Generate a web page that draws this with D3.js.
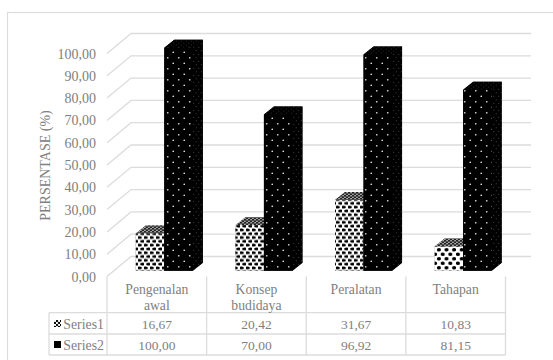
<!DOCTYPE html>
<html>
<head>
<meta charset="utf-8">
<script src="https://cdn.jsdelivr.net/npm/d3@7/dist/d3.min.js"></script>
<style>
html,body{margin:0;padding:0;background:#fff;overflow:hidden}
text{font-family:"Liberation Serif",serif;fill:#808080}
</style>
</head>
<body>
<svg id="chart" width="553" height="360"></svg>
<script>
const categories = [["Pengenalan","awal"],["Konsep","budidaya"],["Peralatan"],["Tahapan"]];
const seriesNames = ["Series1","Series2"];
const series1 = [16.67,20.42,31.67,10.83];
const series2 = [100,70,96.92,81.15];
const series1Labels = ["16,67","20,42","31,67","10,83"];
const series2Labels = ["100,00","70,00","96,92","81,15"];
const yTicks = [0,10,20,30,40,50,60,70,80,90,100];
const yTitle = "PERSENTASE (%)";

const svg = d3.select("#chart");
const grid = "#dcdcdc";
const fmt = d => d.toFixed(2).replace(".", ",");

// Patterned fills for the two series
const defs = svg.append("defs");
function confetti(id, w, h, rx, ry, bg, fg){
  const p = defs.append("pattern").attr("id", id).attr("patternUnits","userSpaceOnUse")
    .attr("width", w).attr("height", h);
  p.append("rect").attr("width", w).attr("height", h).attr("fill", bg);
  [[w*0.25,h*0.25],[w*0.75,h*0.75]].forEach(c =>
    p.append("ellipse").attr("cx",c[0]).attr("cy",c[1]).attr("rx",rx).attr("ry",ry).attr("fill",fg));
}
confetti("s1front", 6, 7.6, 2.4, 1.5, "#fff", "#000");
confetti("s1large", 7.6, 9, 2.05, 1.85, "#fff", "#000");
confetti("s1top", 4, 3, 1.3, 0.9, "#a8a8a8", "#222");
confetti("s2front", 11, 11, 0.85, 0.85, "#000", "#e0e0e0");
confetti("s2side", 5, 7, 0.5, 0.5, "#000", "#555");
confetti("s2top", 5, 4, 0.5, 0.5, "#000", "#3a3a3a");
confetti("legend1", 4, 4, 1.15, 1.15, "#fff", "#000");

// Front plane of the 3D axes
const plotX = d3.scaleBand().domain(d3.range(categories.length)).range([107,505.5]);
const y = d3.scaleLinear().domain([0,100]).range([276.5,53.5]);
const depth = {x:24, y:-20};

// Back wall gridlines with their floor-to-wall diagonals
const gridG = svg.append("g").attr("stroke",grid).attr("stroke-width",1.3).attr("fill","none");
gridG.selectAll("path").data(yTicks).join("path")
  .attr("d", t => `M107,${y(t)}L${107+depth.x},${y(t)+depth.y}H531`);

// Outer chart frame, running off the right and bottom of the page
svg.append("rect").attr("x",7.5).attr("y",12.5).attr("width",600).attr("height",400)
  .attr("fill","none").attr("stroke",grid).attr("stroke-width",1.2);

// Y axis labels and title
svg.append("g").selectAll("text").data(yTicks).join("text")
  .attr("x",96).attr("y",t=>y(t)+5).attr("text-anchor","end").attr("font-size",14).text(fmt);
svg.append("text").attr("transform","translate(50,165.5) rotate(-90)")
  .attr("text-anchor","middle").attr("font-size",14).text(yTitle);

// Bars: a solid silhouette first so the faces join without seams
const barW = 28.5, barOffset = 28.8, d = {x:10,y:-8};
const yBar = d3.scaleLinear().domain([0,100]).range([270.7,47.7]);
function bar(g, x0, v, front, side, top, under){
  const yb = yBar(0), yt = yBar(v);
  g.append("path").attr("fill",under)
    .attr("d",`M${x0},${yb}V${yt}l${d.x},${d.y}H${x0+barW+d.x}V${yb+d.y}l${-d.x},${-d.y}Z`);
  g.append("path").attr("fill",`url(#${side})`)
    .attr("d",`M${x0+barW},${yb}V${yt}l${d.x},${d.y}V${yb+d.y}Z`);
  g.append("path").attr("fill",`url(#${top})`)
    .attr("d",`M${x0},${yt}l${d.x},${d.y}H${x0+barW+d.x}l${-d.x},${-d.y}Z`);
  g.append("rect").attr("x",x0).attr("y",yt).attr("width",barW).attr("height",yb-yt)
    .attr("fill",`url(#${front})`);
}
const bars = svg.append("g");
categories.forEach((c,i)=>{
  const x0 = plotX(i)+barOffset;
  bar(bars.append("g"), x0, series1[i], i===3?"s1large":"s1front", "s1top", "s1top", "#888");
  bar(bars.append("g"), x0+barW, series2[i], "s2front", "s2side", "s2top", "#000");
});

// Data table beneath the plot
const rows = [312.7,334,355];
const table = svg.append("g").attr("stroke",grid).attr("stroke-width",1.3);
rows.forEach(r=>table.append("line").attr("x1",49).attr("x2",505.5).attr("y1",r).attr("y2",r));
plotX.domain().concat(categories.length).forEach(i=>{
  const x = 107 + i*plotX.step();
  table.append("line").attr("x1",x).attr("x2",x).attr("y1",276.5).attr("y2",355);
});
table.append("line").attr("x1",49).attr("x2",49).attr("y1",312.7).attr("y2",355);

categories.forEach((c,i)=>{
  const cx = plotX(i)+plotX.bandwidth()/2;
  c.forEach((t,j)=>svg.append("text").attr("x",cx).attr("y",294+j*16)
    .attr("text-anchor","middle").attr("font-size",13.7).text(t));
  svg.append("text").attr("x",cx).attr("y",328.5).attr("text-anchor","middle").attr("font-size",13.5).text(series1Labels[i]);
  svg.append("text").attr("x",cx).attr("y",349.8).attr("text-anchor","middle").attr("font-size",13.5).text(series2Labels[i]);
});

// Legend keys in the table's first column
[[320,"legend1"],[341,null]].forEach((k,i)=>{
  svg.append("rect").attr("x",54).attr("y",k[0]).attr("width",7).attr("height",7)
    .attr("fill",k[1]?`url(#${k[1]})`:"#000");
  svg.append("text").attr("x",63.3).attr("y",i?349.8:328.5).attr("font-size",13.8).text(seriesNames[i]);
});
</script>
</body>
</html>
